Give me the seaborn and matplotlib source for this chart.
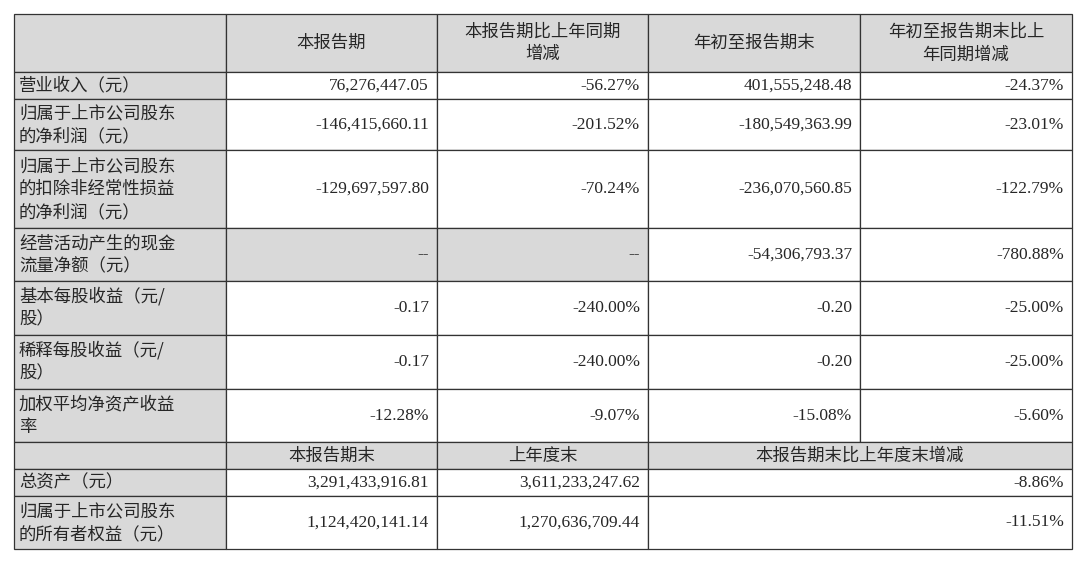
import matplotlib
matplotlib.use("Agg")
import matplotlib.pyplot as plt
import seaborn as sns
from matplotlib.patches import Rectangle

sns.set_theme(style="white")

# ---- data ----
header = ["", "本报告期", "本报告期比上年同期\n增减", "年初至报告期末", "年初至报告期末比上\n年同期增减"]
row_labels = [
    "营业收入（元）",
    "归属于上市公司股东\n的净利润（元）",
    "归属于上市公司股东\n的扣除非经常性损益\n的净利润（元）",
    "经营活动产生的现金\n流量净额（元）",
    "基本每股收益（元/\n股）",
    "稀释每股收益（元/\n股）",
    "加权平均净资产收益\n率",
]
current_period = ["76,276,447.05", "-146,415,660.11", "-129,697,597.80", "--", "-0.17", "-0.17", "-12.28%"]
current_change = ["-56.27%", "-201.52%", "-70.24%", "--", "-240.00%", "-240.00%", "-9.07%"]
ytd_values = ["401,555,248.48", "-180,549,363.99", "-236,070,560.85", "-54,306,793.37", "-0.20", "-0.20", "-15.08%"]
ytd_change = ["-24.37%", "-23.01%", "-122.79%", "-780.88%", "-25.00%", "-25.00%", "-5.60%"]

sub_header = ["", "本报告期末", "上年度末", "本报告期末比上年度末增减"]
bs_labels = ["总资产（元）", "归属于上市公司股东\n的所有者权益（元）"]
bs_current = ["3,291,433,916.81", "1,124,420,141.14"]
bs_last_year = ["3,611,233,247.62", "1,270,636,709.44"]
bs_change = ["-8.86%", "-11.51%"]

# ---- layout (pixels) ----
cols = [14, 226, 437, 648, 860, 1072]
rows = [14, 72, 99, 150, 228, 281, 335, 389, 442, 469, 496, 549]
gray = "#d9d9d9"
cjk = "Noto Sans CJK SC"
num = "Liberation Serif"
fs = 12.5

fig = plt.figure(figsize=(10.8, 5.61), dpi=100)
ax = fig.add_axes([0, 0, 1, 1])
ax.set_xlim(0, 1080)
ax.set_ylim(561, 0)
ax.axis("off")


def cell(x0, x1, y0, y1, text="", fill=None, align="center", font=cjk):
    ax.add_patch(Rectangle((x0, y0), x1 - x0, y1 - y0, facecolor=fill or "white",
                           edgecolor="#333333", linewidth=0.9))
    if not text:
        return
    y = (y0 + y1) / 2
    if align == "left":
        ax.text(x0 + 5, y, text, ha="left", va="center", fontsize=fs, family=font, linespacing=1.35)
    elif align == "right":
        ax.text(x1 - 8, y, text, ha="right", va="center", fontsize=fs, family=font)
    else:
        ax.text((x0 + x1) / 2, y, text, ha="center", va="center", fontsize=fs, family=font, linespacing=1.35)


# header
for j, h in enumerate(header):
    cell(cols[j], cols[j + 1], rows[0], rows[1], h, fill=gray)

# income statement rows
for i, lab in enumerate(row_labels):
    y0, y1 = rows[i + 1], rows[i + 2]
    cell(cols[0], cols[1], y0, y1, lab, fill=gray, align="left")
    vals = [current_period[i], current_change[i], ytd_values[i], ytd_change[i]]
    for j, v in enumerate(vals):
        fill = gray if v == "--" else None
        cell(cols[j + 1], cols[j + 2], y0, y1, v, fill=fill, align="right", font=num)

# sub header
y0, y1 = rows[8], rows[9]
cell(cols[0], cols[1], y0, y1, fill=gray)
cell(cols[1], cols[2], y0, y1, sub_header[1], fill=gray)
cell(cols[2], cols[3], y0, y1, sub_header[2], fill=gray)
cell(cols[3], cols[5], y0, y1, sub_header[3], fill=gray)

# balance sheet rows
for i, lab in enumerate(bs_labels):
    y0, y1 = rows[9 + i], rows[10 + i]
    cell(cols[0], cols[1], y0, y1, lab, fill=gray, align="left")
    cell(cols[1], cols[2], y0, y1, bs_current[i], align="right", font=num)
    cell(cols[2], cols[3], y0, y1, bs_last_year[i], align="right", font=num)
    cell(cols[3], cols[5], y0, y1, bs_change[i], align="right", font=num)

fig.savefig("out.png", dpi=100)
